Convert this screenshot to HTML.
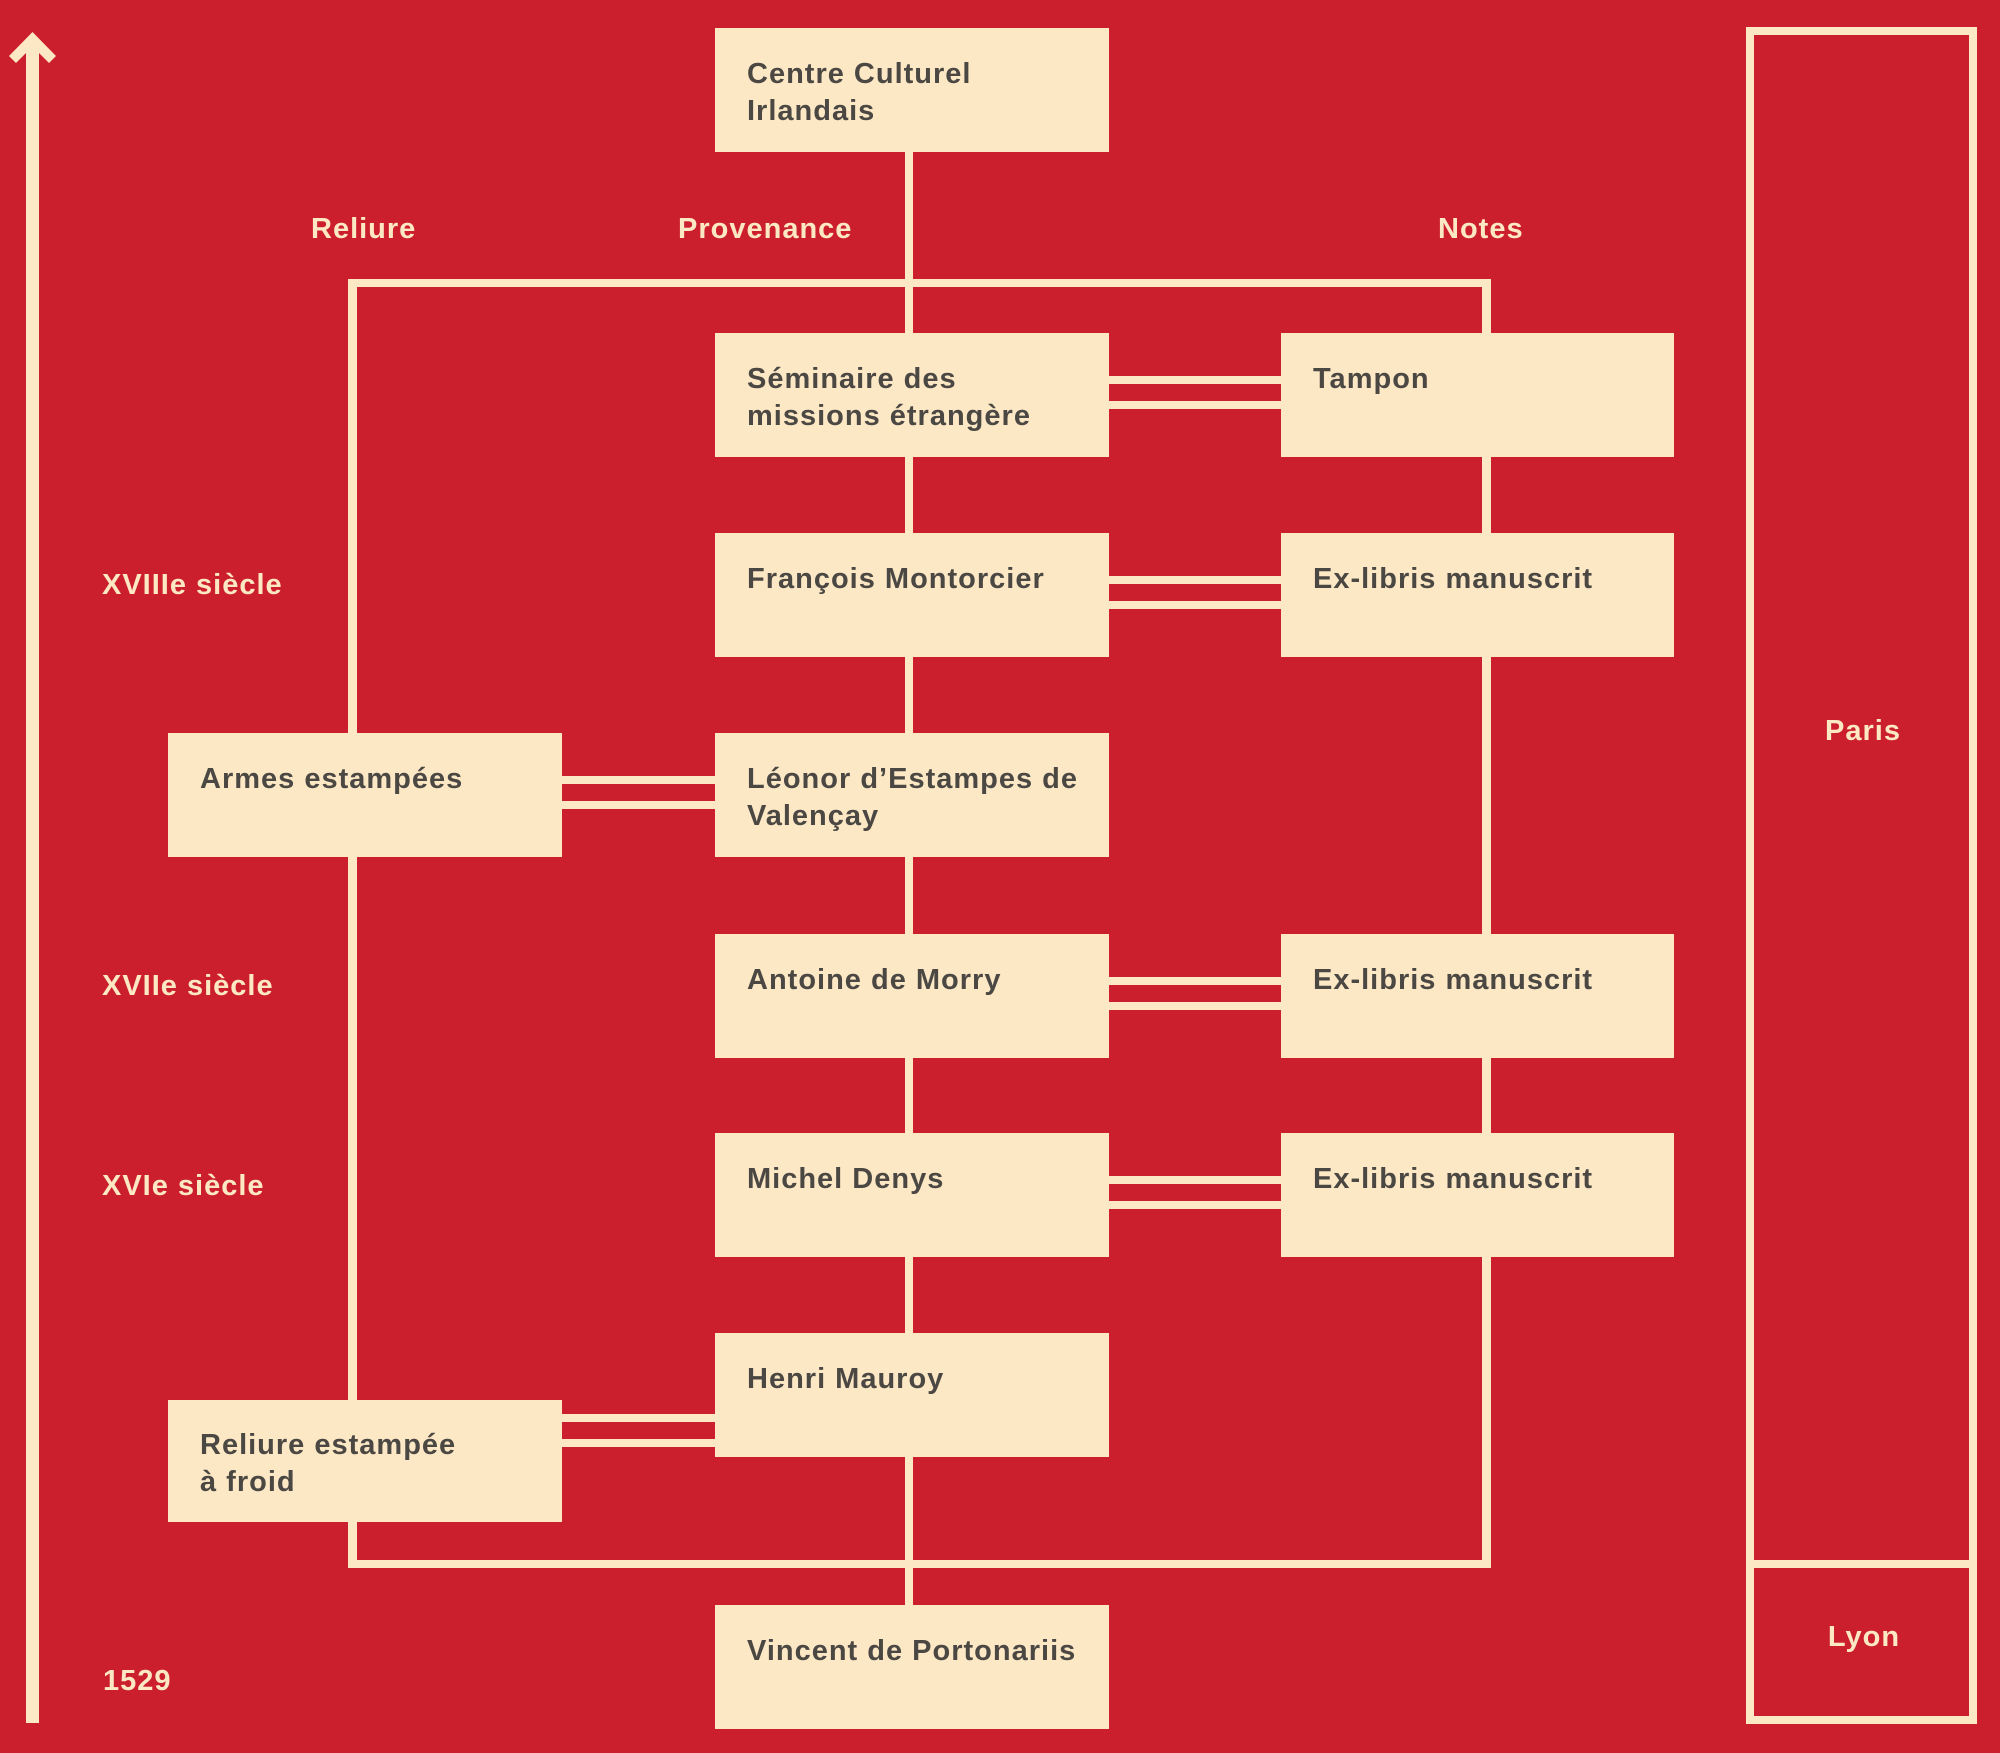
<!DOCTYPE html>
<html>
<head>
<meta charset="utf-8">
<style>
  html, body { margin:0; padding:0; background:#cc1f2d; }
  svg { display:block; }
  .bt { font-family:"Liberation Sans", Arial, sans-serif; font-weight:bold; font-size:29px; fill:#4b4843; letter-spacing:1px; }
  .lb { font-family:"Liberation Sans", Arial, sans-serif; font-weight:bold; font-size:29px; fill:#fde8c5; letter-spacing:1px; }
</style>
</head>
<body>
<svg width="2000" height="1753" viewBox="0 0 2000 1753" xmlns="http://www.w3.org/2000/svg">
  <rect x="0" y="0" width="2000" height="1753" fill="#cc1f2d"/>

  <!-- timeline arrow -->
  <polygon fill="#fde8c5" points="32.5,32 56,56 49,63 39,53 39,1723 26,1723 26,53 16,63 9,56"/>

  <!-- connectors (cream lines) -->
  <g fill="#fde8c5">
    <!-- top horizontal -->
    <rect x="348" y="279" width="1143" height="8"/>
    <!-- bottom horizontal -->
    <rect x="348" y="1560" width="1143" height="8"/>
    <!-- left vertical -->
    <rect x="348" y="279" width="9" height="1289"/>
    <!-- right vertical -->
    <rect x="1482" y="279" width="9" height="1289"/>
    <!-- center vertical -->
    <rect x="905" y="140" width="8" height="1470"/>

    <!-- double links center -> right -->
    <rect x="1105" y="376" width="180" height="8"/>
    <rect x="1105" y="401" width="180" height="8"/>
    <rect x="1105" y="576" width="180" height="8"/>
    <rect x="1105" y="601" width="180" height="8"/>
    <rect x="1105" y="977" width="180" height="8"/>
    <rect x="1105" y="1002" width="180" height="8"/>
    <rect x="1105" y="1176" width="180" height="8"/>
    <rect x="1105" y="1201" width="180" height="8"/>

    <!-- double links left -> center -->
    <rect x="558" y="776" width="160" height="8"/>
    <rect x="558" y="801" width="160" height="8"/>
    <rect x="558" y="1414" width="160" height="8"/>
    <rect x="558" y="1439" width="160" height="8"/>
  </g>

  <!-- Paris / Lyon frame -->
  <rect x="1750" y="31" width="223" height="1689" fill="none" stroke="#fde8c5" stroke-width="8"/>
  <rect x="1746" y="1560" width="231" height="8" fill="#fde8c5"/>

  <!-- boxes -->
  <g fill="#fde8c6">
    <rect x="715" y="28" width="394" height="124"/>
    <rect x="715" y="333" width="394" height="124"/>
    <rect x="715" y="533" width="394" height="124"/>
    <rect x="715" y="733" width="394" height="124"/>
    <rect x="715" y="934" width="394" height="124"/>
    <rect x="715" y="1133" width="394" height="124"/>
    <rect x="715" y="1333" width="394" height="124"/>
    <rect x="715" y="1605" width="394" height="124"/>

    <rect x="1281" y="333" width="393" height="124"/>
    <rect x="1281" y="533" width="393" height="124"/>
    <rect x="1281" y="934" width="393" height="124"/>
    <rect x="1281" y="1133" width="393" height="124"/>

    <rect x="168" y="733" width="394" height="124"/>
    <rect x="168" y="1400" width="394" height="122"/>
  </g>

  <!-- box texts -->
  <text class="bt" x="747" y="83">Centre Culturel</text>
  <text class="bt" x="747" y="120">Irlandais</text>

  <text class="bt" x="747" y="388">Séminaire des</text>
  <text class="bt" x="747" y="425">missions étrangère</text>

  <text class="bt" x="747" y="588">François Montorcier</text>

  <text class="bt" x="747" y="788">Léonor d’Estampes de</text>
  <text class="bt" x="747" y="825">Valençay</text>

  <text class="bt" x="747" y="989">Antoine de Morry</text>

  <text class="bt" x="747" y="1188">Michel Denys</text>

  <text class="bt" x="747" y="1388">Henri Mauroy</text>

  <text class="bt" x="747" y="1660">Vincent de Portonariis</text>

  <text class="bt" x="1313" y="388">Tampon</text>
  <text class="bt" x="1313" y="588">Ex-libris manuscrit</text>
  <text class="bt" x="1313" y="989">Ex-libris manuscrit</text>
  <text class="bt" x="1313" y="1188">Ex-libris manuscrit</text>

  <text class="bt" x="200" y="788">Armes estampées</text>
  <text class="bt" x="200" y="1454">Reliure estampée</text>
  <text class="bt" x="200" y="1491">à froid</text>

  <!-- labels -->
  <text class="lb" x="311" y="238">Reliure</text>
  <text class="lb" x="678" y="238">Provenance</text>
  <text class="lb" x="1438" y="238">Notes</text>

  <text class="lb" x="102" y="594">XVIIIe siècle</text>
  <text class="lb" x="102" y="995">XVIIe siècle</text>
  <text class="lb" x="102" y="1195">XVIe siècle</text>
  <text class="lb" x="103" y="1690">1529</text>

  <text class="lb" x="1863" y="740" text-anchor="middle">Paris</text>
  <text class="lb" x="1864" y="1646" text-anchor="middle">Lyon</text>
</svg>
</body>
</html>
